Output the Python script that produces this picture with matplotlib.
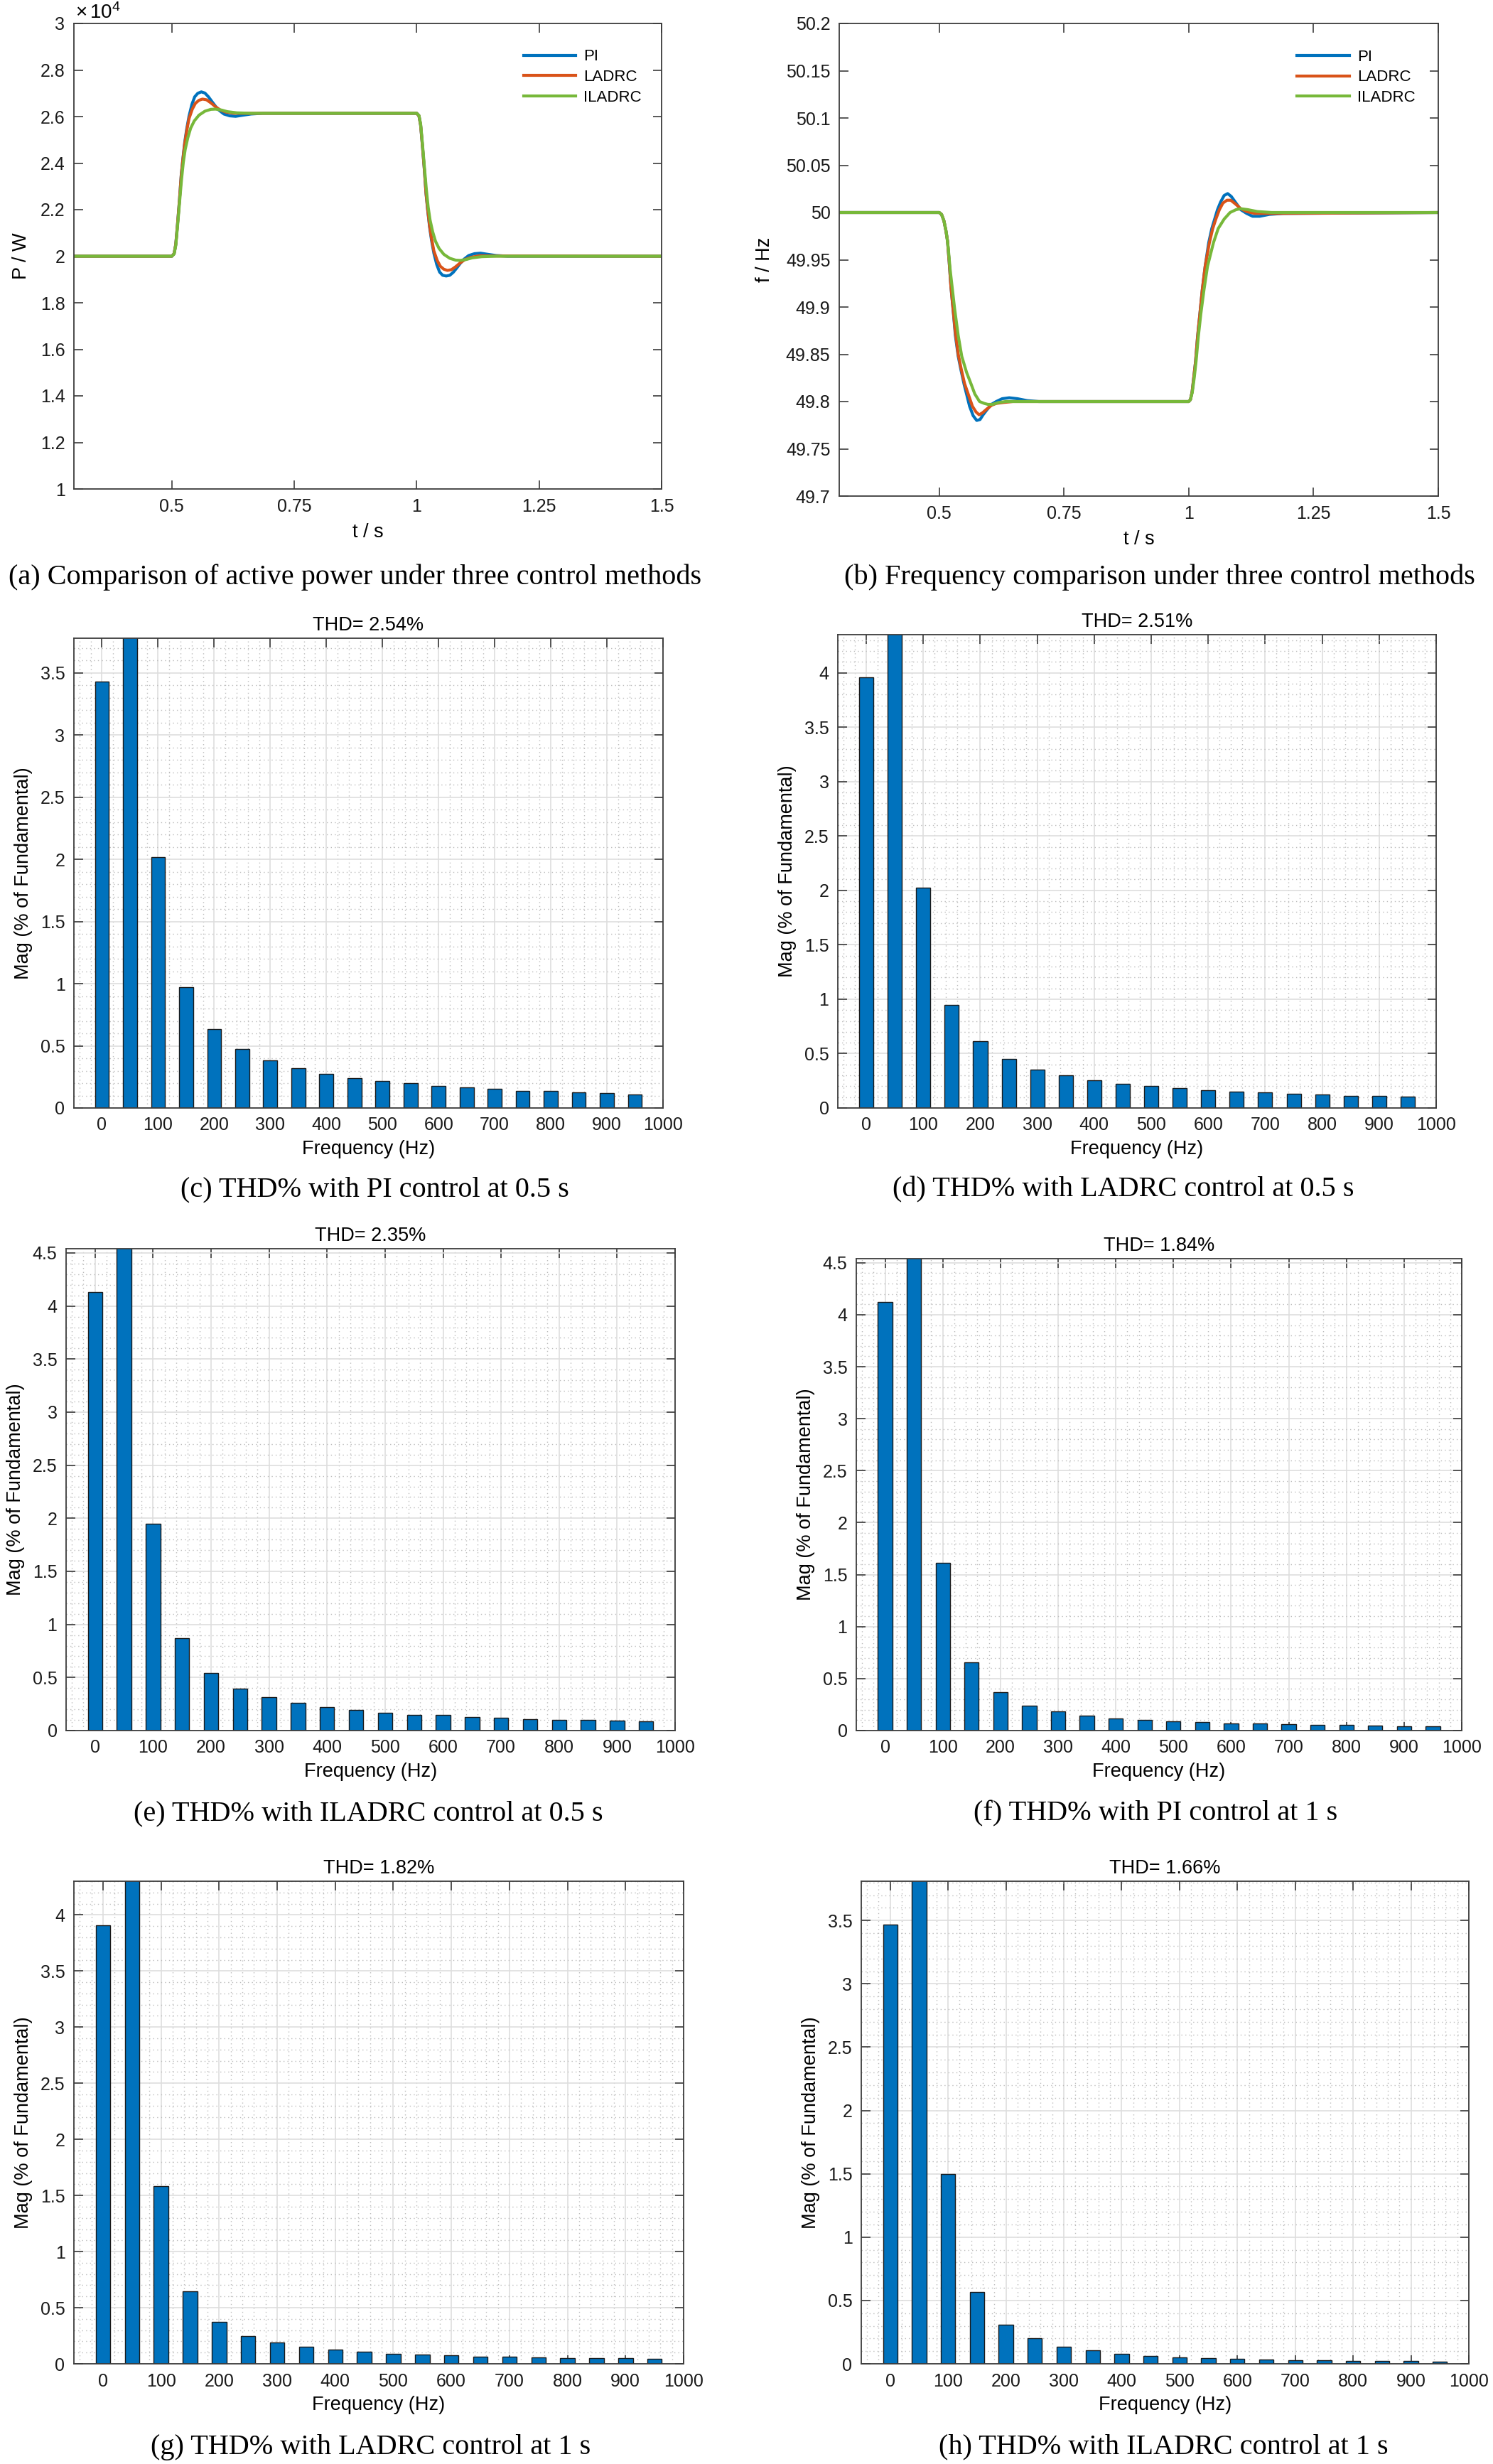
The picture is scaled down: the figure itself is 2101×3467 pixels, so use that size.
import matplotlib
matplotlib.use('Agg')
import matplotlib.pyplot as plt
from matplotlib.ticker import MultipleLocator, FuncFormatter

plt.rcParams['font.family'] = ['Liberation Sans', 'DejaVu Sans']
plt.rcParams['mathtext.fontset'] = 'custom'
plt.rcParams['mathtext.rm'] = 'Liberation Sans'
plt.rcParams['mathtext.it'] = 'Liberation Sans:italic'

# ---------------- (a) active power, P in 1e4 W ----------------
t_a_pi = [0.3, 0.5, 0.5046, 0.508, 0.5118, 0.5157, 0.5191, 0.5225, 0.5263, 0.5302, 0.535, 0.5409,
          0.5467, 0.553, 0.5602, 0.5675, 0.5747, 0.582, 0.5892, 0.5965, 0.6062, 0.6182, 0.6303,
          0.6424, 0.6618, 0.686, 1.0, 1.0046, 1.008, 1.0118, 1.0157, 1.0191, 1.0225, 1.0263,
          1.0302, 1.035, 1.0409, 1.0467, 1.053, 1.0602, 1.0675, 1.0747, 1.082, 1.0892, 1.0965,
          1.1062, 1.1182, 1.1303, 1.1424, 1.1618, 1.186, 1.5]
p_a_pi = [2.0, 2.0, 2.011, 2.051, 2.143, 2.245, 2.347, 2.418, 2.489, 2.545, 2.601, 2.652,
          2.685, 2.700, 2.706, 2.701, 2.685, 2.664, 2.644, 2.627, 2.611, 2.603, 2.601,
          2.605, 2.611, 2.614, 2.614, 2.603, 2.563, 2.471, 2.369, 2.267, 2.196, 2.125,
          2.069, 2.013, 1.964, 1.932, 1.918, 1.915, 1.918, 1.931, 1.950, 1.970, 1.987,
          2.003, 2.011, 2.013, 2.009, 2.003, 2.0, 2.0]

t_a_ladrc = [0.3, 0.5, 0.5046, 0.508, 0.5118, 0.5157, 0.5191, 0.5225, 0.5263, 0.5302, 0.535, 0.5418,
             0.5481, 0.5554, 0.5626, 0.5708, 0.5796, 0.5892, 0.5989, 0.611, 0.6279, 0.6618, 1.0,
             1.0046, 1.008, 1.0118, 1.0157, 1.0191, 1.0225, 1.0263, 1.0302, 1.035, 1.0418, 1.0481,
             1.0554, 1.0626, 1.0708, 1.0796, 1.0892, 1.0989, 1.111, 1.1279, 1.16, 1.5]
p_a_ladrc = [2.0, 2.0, 2.011, 2.051, 2.143, 2.245, 2.345, 2.414, 2.483, 2.537, 2.591, 2.632,
             2.657, 2.670, 2.675, 2.672, 2.659, 2.642, 2.628, 2.619, 2.614, 2.614, 2.614,
             2.603, 2.563, 2.471, 2.369, 2.269, 2.200, 2.131, 2.077, 2.023, 1.982, 1.957,
             1.944, 1.939, 1.942, 1.955, 1.972, 1.986, 1.995, 2.002, 2.001, 2.0]

t_a_iladrc = [0.3, 0.5, 0.5046, 0.508, 0.5118, 0.5157, 0.5196, 0.5234, 0.5273, 0.5326, 0.5384, 0.5457,
              0.5554, 0.5675, 0.5796, 0.5892, 0.6013, 0.6134, 0.6328, 0.6618, 1.0, 1.0046, 1.008,
              1.0118, 1.0157, 1.0196, 1.0234, 1.0273, 1.0326, 1.0384, 1.0457, 1.0554, 1.0675,
              1.0796, 1.0892, 1.1013, 1.1134, 1.1328, 1.1618, 1.5]
p_a_iladrc = [2.0, 2.0, 2.009, 2.046, 2.133, 2.23, 2.326, 2.403, 2.459, 2.509, 2.55, 2.581,
              2.606, 2.623, 2.631, 2.632, 2.628, 2.621, 2.616, 2.614, 2.614, 2.605, 2.568,
              2.481, 2.384, 2.288, 2.211, 2.155, 2.105, 2.064, 2.033, 2.008, 1.991,
              1.983, 1.982, 1.986, 1.993, 1.998, 2.0, 2.0]

# ---------------- (b) frequency, Hz ----------------
t_b_pi = [0.3, 0.5003, 0.505, 0.5098, 0.5136, 0.5169, 0.5202, 0.524, 0.5288, 0.5326, 0.5383, 0.544,
          0.5502, 0.555, 0.5611, 0.5683, 0.5754, 0.5821, 0.5882, 0.5954, 0.6049, 0.6144, 0.6263,
          0.6406, 0.6572, 0.6762, 0.70, 1.0, 1.0035, 1.0068, 1.0101, 1.0139, 1.0177, 1.0225,
          1.0272, 1.033, 1.0401, 1.0463, 1.052, 1.0577, 1.0639, 1.071, 1.0781, 1.0853, 1.0948,
          1.1043, 1.1162, 1.1281, 1.1423, 1.1613, 1.1899, 1.5]
f_b_pi = [50, 50, 49.998, 49.991, 49.981, 49.97, 49.948, 49.92, 49.893, 49.87, 49.848, 49.833,
          49.818, 49.808, 49.795, 49.785, 49.78, 49.781, 49.786, 49.791, 49.797, 49.8, 49.803,
          49.804, 49.803, 49.801, 49.8, 49.8, 49.802, 49.81, 49.825, 49.843, 49.868, 49.893,
          49.918, 49.943, 49.968, 49.983, 49.993, 50.003, 50.011, 50.018, 50.02, 50.017, 50.01,
          50.003, 49.999, 49.996, 49.996, 49.998, 49.999, 50]

t_b_ladrc = [0.3, 0.5003, 0.505, 0.5098, 0.5136, 0.5169, 0.5202, 0.524, 0.5288, 0.5326, 0.5383,
             0.5445, 0.5511, 0.5583, 0.5668, 0.574, 0.5802, 0.5868, 0.5954, 0.6049, 0.6144, 0.6287,
             0.6477, 0.70, 1.0, 1.0035, 1.0068, 1.0101, 1.0139, 1.0177, 1.0225, 1.0272, 1.033,
             1.0415, 1.0482, 1.0544, 1.0615, 1.0686, 1.0767, 1.0843, 1.0938, 1.1043, 1.1162,
             1.1328, 1.1661, 1.5]
f_b_ladrc = [50, 50, 49.998, 49.991, 49.981, 49.97, 49.948, 49.92, 49.894, 49.873, 49.85,
             49.834, 49.819, 49.808, 49.795, 49.789, 49.786, 49.788, 49.792, 49.796, 49.798, 49.799,
             49.8, 49.8, 49.8, 49.802, 49.81, 49.825, 49.843, 49.868, 49.893, 49.918, 49.943,
             49.968, 49.983, 49.993, 50.003, 50.01, 50.013, 50.013, 50.009, 50.004, 50.001,
             49.999, 49.999, 50]

t_b_iladrc = [0.3, 0.5003, 0.505, 0.5098, 0.5145, 0.5183, 0.5221, 0.5264, 0.5312, 0.5383, 0.5454,
              0.555, 0.5645, 0.5716, 0.5811, 0.5906, 0.5978, 0.6073, 0.6192, 0.6334, 0.6524, 1.0,
              1.0035, 1.0073, 1.0111, 1.0149, 1.0192, 1.0244, 1.0306, 1.0377, 1.0496, 1.0591,
              1.071, 1.0829, 1.0948, 1.1043, 1.1186, 1.1376, 1.1661, 1.5]
f_b_iladrc = [50, 50, 49.998, 49.991, 49.979, 49.963, 49.94, 49.92, 49.898, 49.87, 49.848,
              49.831, 49.818, 49.808, 49.8, 49.798, 49.797, 49.797, 49.799, 49.8, 49.8, 49.8,
              49.802, 49.81, 49.825, 49.843, 49.868, 49.893, 49.918, 49.943, 49.968, 49.983,
              49.993, 50.0, 50.003, 50.004, 50.003, 50.001, 50.0, 50.0]

# ---------------- (c)-(h) harmonic spectra, % of fundamental ----------------
freq = [0, 50, 100, 150, 200, 250, 300, 350, 400, 450, 500, 550, 600, 650, 700, 750, 800, 850, 900, 950]
mag_c = [3.43, 100, 2.02, 0.97, 0.632, 0.474, 0.384, 0.319, 0.276, 0.241, 0.217, 0.198, 0.180, 0.167,
         0.155, 0.139, 0.136, 0.127, 0.118, 0.111]
mag_d = [3.957, 100, 2.025, 0.945, 0.611, 0.451, 0.355, 0.298, 0.256, 0.224, 0.202, 0.181, 0.163, 0.153,
         0.142, 0.128, 0.121, 0.114, 0.110, 0.103]
mag_e = [4.13, 100, 1.947, 0.872, 0.545, 0.397, 0.313, 0.258, 0.221, 0.195, 0.169, 0.147, 0.144, 0.129,
         0.121, 0.110, 0.103, 0.099, 0.092, 0.088]
mag_f = [4.124, 100, 1.611, 0.654, 0.372, 0.237, 0.188, 0.146, 0.116, 0.101, 0.086, 0.079, 0.071, 0.068,
         0.060, 0.053, 0.056, 0.049, 0.041, 0.041]
mag_g = [3.909, 100, 1.582, 0.646, 0.372, 0.249, 0.193, 0.154, 0.126, 0.109, 0.091, 0.084, 0.077, 0.063,
         0.063, 0.056, 0.053, 0.049, 0.049, 0.046]
mag_h = [3.466, 100, 1.497, 0.566, 0.311, 0.202, 0.137, 0.109, 0.081, 0.059, 0.053, 0.047, 0.040, 0.031,
         0.028, 0.028, 0.025, 0.022, 0.022, 0.019]
thd = ['2.54', '2.51', '2.35', '1.84', '1.82', '1.66']
ytop = [3.78, 4.35, 4.54, 4.54, 4.30, 3.81]
captions = ['(a) Comparison of active power under three control methods',
            '(b) Frequency comparison under three control methods',
            '(c) THD% with PI control at 0.5 s',
            '(d) THD% with LADRC control at 0.5 s',
            '(e) THD% with ILADRC control at 0.5 s',
            '(f) THD% with PI control at 1 s',
            '(g) THD% with LADRC control at 1 s',
            '(h) THD% with ILADRC control at 1 s']

W, H = 2101, 3467
AXC = '#3c3c3c'
C_PI, C_LADRC, C_ILADRC = '#0072BD', '#D95319', '#77B83A'


def rect(L, T, R, B):
    return [L / W, 1 - B / H, (R - L) / W, (B - T) / H]


def style(ax):
    for s in ax.spines.values():
        s.set_color(AXC)
        s.set_linewidth(1.3)
    ax.tick_params(which='major', direction='in', length=9, width=1.2, color=AXC,
                   top=True, right=True, labelsize=18, labelcolor='#1a1a1a', pad=9)


fig = plt.figure(figsize=(W / 100, H / 100), dpi=100)
gfmt = FuncFormatter(lambda v, p: '%g' % round(v, 4))

# (a)
ax = fig.add_axes(rect(104, 33, 931, 688))
ax.plot(t_a_pi, p_a_pi, color=C_PI, lw=3, label='PI')
ax.plot(t_a_ladrc, p_a_ladrc, color=C_LADRC, lw=3, label='LADRC')
ax.plot(t_a_iladrc, p_a_iladrc, color=C_ILADRC, lw=3, label='ILADRC')
ax.set_xlim(0.3, 1.5)
ax.set_ylim(1, 3)
ax.set_xticks([0.5, 0.75, 1, 1.25, 1.5])
ax.set_yticks([1, 1.2, 1.4, 1.6, 1.8, 2, 2.2, 2.4, 2.6, 2.8, 3])
ax.xaxis.set_major_formatter(gfmt)
ax.yaxis.set_major_formatter(gfmt)
style(ax)
ax.set_xlabel('t / s', fontsize=19.5, labelpad=8)
ax.set_ylabel('P / W', fontsize=19.5, labelpad=10)
ax.text(0.003, 1.002, r'$\times\,10^{4}$', transform=ax.transAxes, fontsize=20,
        ha='left', va='bottom')
ax.legend(loc='upper right', bbox_to_anchor=(0.99, 0.975), frameon=False, fontsize=16,
          handlelength=3.3, labelspacing=0.35, handletextpad=0.5)

# (b)
ax = fig.add_axes(rect(1181, 33, 2024, 698))
ax.plot(t_b_pi, f_b_pi, color=C_PI, lw=3, label='PI')
ax.plot(t_b_ladrc, f_b_ladrc, color=C_LADRC, lw=3, label='LADRC')
ax.plot(t_b_iladrc, f_b_iladrc, color=C_ILADRC, lw=3, label='ILADRC')
ax.set_xlim(0.3, 1.5)
ax.set_ylim(49.7, 50.2)
ax.set_xticks([0.5, 0.75, 1, 1.25, 1.5])
ax.set_yticks([49.7, 49.75, 49.8, 49.85, 49.9, 49.95, 50, 50.05, 50.1, 50.15, 50.2])
ax.xaxis.set_major_formatter(gfmt)
ax.yaxis.set_major_formatter(gfmt)
style(ax)
ax.set_xlabel('t / s', fontsize=19.5, labelpad=8)
ax.set_ylabel('f / Hz', fontsize=19.5, labelpad=12)
ax.legend(loc='upper right', bbox_to_anchor=(0.985, 0.975), frameon=False, fontsize=16,
          handlelength=3.3, labelspacing=0.35, handletextpad=0.5)

# spectra
boxes = [(104, 898, 933, 1559), (1179, 893, 2021, 1559),
         (93, 1757, 950, 2435), (1205, 1771, 2057, 2435),
         (104, 2647, 962, 3326), (1212, 2647, 2067, 3326)]
mags = [mag_c, mag_d, mag_e, mag_f, mag_g, mag_h]
for box, mag, th, yt in zip(boxes, mags, thd, ytop):
    ax = fig.add_axes(rect(*box))
    ax.set_axisbelow(True)
    ax.bar(freq, mag, width=25, color='#0072BD', edgecolor='#1a1a1a', linewidth=1.0)
    ax.set_xlim(-50, 1000)
    ax.set_ylim(0, yt)
    ax.set_xticks(range(0, 1001, 100))
    ax.yaxis.set_major_locator(MultipleLocator(0.5))
    ax.xaxis.set_minor_locator(MultipleLocator(20))
    ax.yaxis.set_minor_locator(MultipleLocator(0.1))
    ax.yaxis.set_major_formatter(gfmt)
    ax.grid(which='major', color='#dedede', lw=1.2)
    ax.grid(which='minor', color='#bdbdbd', ls=(0, (1, 3)), lw=1.0)
    style(ax)
    ax.tick_params(which='minor', length=0)
    ax.set_xlabel('Frequency (Hz)', fontsize=19.5, labelpad=6)
    ax.set_ylabel('Mag (% of Fundamental)', fontsize=19.5, labelpad=8)
    ax.set_title('THD= ' + th + '%', fontsize=19.5, pad=8)

# captions
cap_pos = [(500, 812), (1632, 812), (527, 1674), (1581, 1674),
           (518, 2552), (1626, 2552), (522, 3443), (1637, 3443)]
for (cx, cy), txt in zip(cap_pos, captions):
    fig.text(cx / W, 1 - cy / H, txt, ha='center', va='center',
             family=['Liberation Serif', 'DejaVu Serif'], fontsize=29)

fig.savefig('out.png', dpi=100)
